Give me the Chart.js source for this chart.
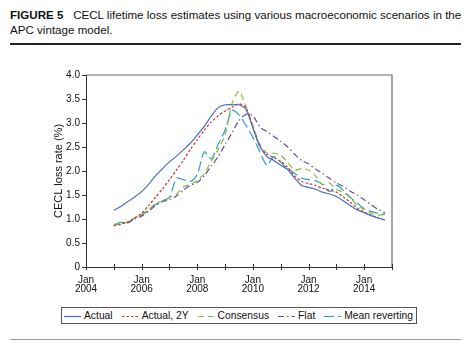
<!DOCTYPE html>
<html><head><meta charset="utf-8">
<script src="https://cdn.jsdelivr.net/npm/chart.js@4/dist/chart.umd.min.js"></script>
<style>
body{margin:0;background:#fff;width:474px;height:358px;overflow:hidden;font-family:"Liberation Sans",Arial,Helvetica,sans-serif;}
#title{position:absolute;left:10px;top:7px;width:452px;font-size:11.6px;line-height:15px;color:#111;}
#title b{font-weight:bold;}
#rule1{position:absolute;left:10px;top:43px;width:451px;height:2px;background:#222;}
#rule2{position:absolute;left:10px;top:339px;width:451px;height:1px;background:#999;}
#wrap{position:absolute;left:0;top:50px;width:474px;height:252px;}
#legend{position:absolute;left:61px;top:307px;height:15px;border:1px solid #555;display:flex;align-items:center;padding:0 3px 0 2px;font-size:10.3px;color:#111;white-space:nowrap;}
#legend .it{display:flex;align-items:center;margin-right:9px;}
#legend .it:last-child{margin-right:0;}
#legend svg{margin-right:3px;}
</style></head><body>
<div id="title"><b>FIGURE 5</b>&nbsp;&nbsp; CECL lifetime loss estimates using various macroeconomic scenarios in the APC vintage model.</div>
<div id="rule1"></div>
<div id="wrap"><canvas id="c" width="474" height="252"></canvas></div>
<div id="legend"></div>
<div id="rule2"></div>
<script>
// Quarterly dates (decimal years)
const dates = [2005.0,2005.25,2005.5,2005.75,2006.0,2006.25,2006.5,2006.75,2007.0,2007.25,2007.5,2007.75,
  2008.0,2008.25,2008.5,2008.75,2009.0,2009.25,2009.5,2009.75,2010.0,2010.25,2010.5,2010.75,
  2011.0,2011.25,2011.5,2011.75,2012.0,2012.25,2012.5,2012.75,2013.0,2013.25,2013.5,2013.75,
  2014.0,2014.25,2014.5,2014.75];
const actual = [1.18,1.26,1.36,1.46,1.57,1.72,1.90,2.05,2.19,2.31,2.44,2.58,2.75,2.93,3.14,3.32,3.38,3.38,3.38,3.28,
  2.90,2.52,2.30,2.22,2.12,2.03,1.85,1.70,1.66,1.62,1.56,1.52,1.47,1.38,1.28,1.19,1.13,1.07,1.02,0.98];
const actual2Y = [0.86,0.89,0.94,1.02,1.12,1.28,1.45,1.63,1.82,2.02,2.22,2.45,2.65,2.85,3.02,3.15,3.25,3.33,3.40,3.32,
  2.90,2.50,2.35,2.28,2.20,2.08,1.90,1.78,1.74,1.70,1.64,1.60,1.56,1.46,1.35,1.23,1.15,1.08,1.02,0.98];
const consensus = [0.88,0.92,0.93,1.02,1.10,1.20,1.32,1.38,1.45,1.52,1.67,1.72,1.80,1.95,2.20,2.45,2.75,3.41,3.66,3.35,
  2.95,2.55,2.38,2.37,2.33,2.18,2.02,2.05,2.02,1.90,1.72,1.75,1.62,1.55,1.45,1.28,1.20,1.12,1.08,1.10];
const flat = [0.86,0.92,0.92,1.00,1.06,1.16,1.28,1.36,1.40,1.48,1.60,1.70,1.76,1.90,2.10,2.30,2.55,2.80,3.05,3.18,
  3.15,2.92,2.82,2.72,2.62,2.50,2.35,2.22,2.15,2.04,1.95,1.85,1.75,1.68,1.58,1.50,1.40,1.30,1.20,1.13];
const meanRev = [0.88,0.93,0.92,1.02,1.08,1.18,1.30,1.38,1.45,1.85,1.82,1.78,1.93,2.40,2.25,2.55,2.85,3.27,3.17,2.95,
  2.70,2.40,2.12,2.30,2.18,2.05,1.95,1.85,1.82,1.80,1.72,1.57,1.70,1.60,1.45,1.33,1.22,1.16,1.12,1.10];
const yTicks = [0,0.5,1.0,1.5,2.0,2.5,3.0,3.5,4.0];
const xLabelYears = [2004,2006,2008,2010,2012,2014];

const pts = arr => arr.map((v,i)=>({x:dates[i], y:v}));
const FONT = "'Liberation Sans', Arial, Helvetica, sans-serif";

const framePlugin = {
  id:'frame',
  afterDraw(chart){
    const {ctx, chartArea:a, scales:{x}} = chart;
    ctx.save();
    ctx.strokeStyle = '#6d6d6d'; ctx.lineWidth = 1.2;
    ctx.beginPath();
    ctx.moveTo(a.left, a.top); ctx.lineTo(a.right, a.top); ctx.lineTo(a.right, a.bottom);
    ctx.stroke();
    ctx.strokeStyle = '#333'; ctx.lineWidth = 1;
    for (let yr = 2004; yr <= 2015; yr++) {
      const px = Math.round(x.getPixelForValue(yr)) + 0.5;
      ctx.beginPath(); ctx.moveTo(px, a.bottom - 3); ctx.lineTo(px, a.bottom + 3); ctx.stroke();
    }
    ctx.restore();
  }
};

const ds = (label, data, color, dash) => ({
  label, data: pts(data), borderColor: color, backgroundColor: color,
  borderWidth: 1.2, borderDash: dash, pointRadius: 0, tension: 0.25, fill: false
});

const chart = new Chart(document.getElementById('c'), {
  type: 'line',
  data: { datasets: [
    ds('Actual', actual, '#4a6fb5', []),
    ds('Actual, 2Y', actual2Y, '#c8322e', [2.5,2]),
    ds('Consensus', consensus, '#8cba3c', [6,4]),
    ds('Flat', flat, '#6a4c9c', [6,3,1.5,3]),
    ds('Mean reverting', meanRev, '#2a9fc4', [10,4])
  ]},
  options: {
    responsive: false, animation: false, devicePixelRatio: 1,
    layout: { padding: { top: 25, left: 0, right: 82, bottom: 5 } },
    plugins: { tooltip: { enabled: false }, legend: { display: false } },
    scales: {
      x: {
        type: 'linear', min: 2004, max: 2015,
        afterBuildTicks: s => { s.ticks = xLabelYears.map(v => ({ value: v })); },
        ticks: { autoSkip: false, maxRotation: 0, padding: 1, color: '#111',
          font: { family: FONT, size: 10, lineHeight: 0.9 },
          callback: v => ['Jan', String(v)] },
        grid: { display: false },
        border: { display: true, color: '#333', width: 1 },
        afterFit: s => { s.height = 30; }
      },
      y: {
        min: 0, max: 4,
        afterBuildTicks: s => { s.ticks = yTicks.map(v => ({ value: v })); },
        ticks: { padding: 2, color: '#111', font: { family: FONT, size: 10 },
          callback: v => v === 0 ? '0' : v.toFixed(1) },
        grid: { drawOnChartArea: false, drawTicks: true, tickLength: 4, color: '#333' },
        border: { display: true, color: '#333', width: 1 },
        title: { display: true, text: 'CECL loss rate (%)', color: '#111',
          font: { family: FONT, size: 11 }, padding: { top: 52, bottom: 0 } },
        afterFit: s => { s.width = 86; }
      }
    }
  },
  plugins: [framePlugin]
});

// HTML legend built from the chart's datasets
const leg = document.getElementById('legend');
chart.data.datasets.forEach(d => {
  const it = document.createElement('div'); it.className = 'it';
  const dash = d.borderDash.length ? d.borderDash.join(',') : 'none';
  it.innerHTML = `<svg width="17" height="10"><line x1="0" y1="5.5" x2="17" y2="5.5" stroke="${d.borderColor}" stroke-width="1.2" stroke-dasharray="${dash}"/></svg><span>${d.label}</span>`;
  leg.appendChild(it);
});
</script>
</body></html>
